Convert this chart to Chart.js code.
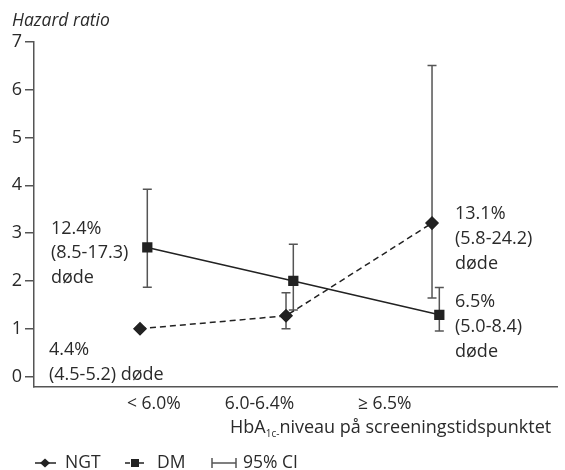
<!DOCTYPE html>
<html><head><meta charset="utf-8">
<script src="https://cdn.jsdelivr.net/npm/chart.js@4/dist/chart.umd.min.js"></script>
<style>html,body{margin:0;padding:0;background:#fff;}canvas{display:block;}</style>
</head><body>
<canvas id="c" width="565" height="470"></canvas>
<script>
const categories = ['< 6.0%', '6.0-6.4%', '≥ 6.5%'];
const ngtValues = [1.0, 1.27, 3.21];
const ngtLow = [null, 1.0, 1.64];
const ngtHigh = [null, 1.75, 6.51];
const dmValues = [2.70, 2.0, 1.29];
const dmLow = [1.87, 1.39, 0.95];
const dmHigh = [3.92, 2.77, 1.86];
const yTickValues = [0, 1, 2, 3, 4, 5, 6, 7];
const yTitle = 'Hazard ratio';
const xTitleParts = ['HbA', '1c-', 'niveau på screeningstidspunktet'];
const seriesNames = ['NGT', 'DM', '95% CI'];
const annotations = [
  ['12.4%', '(8.5-17.3)', 'døde'],
  ['4.4%', '(4.5-5.2) døde'],
  ['13.1%', '(5.8-24.2)', 'døde'],
  ['6.5%', '(5.0-8.4)', 'døde']
];

const FONT = '"Open Sans", "Noto Sans", sans-serif';
const FS = 18;
const DM_SHIFT = 0.05;
const LABEL_POS = [0.095, 0.818, 1.676];

const ngtData = ngtValues.map((v, i) => ({x: i, y: v}));
const dmData = dmValues.map((v, i) => ({x: i + DM_SHIFT, y: v}));

const extras = {
  id: 'extras',
  beforeDatasetsDraw(chart) {
    const ctx = chart.ctx, xs = chart.scales.x, ys = chart.scales.y;
    ctx.save();
    ctx.strokeStyle = '#555';
    ctx.lineWidth = 1.5;
    const bars = (lo, hi, shift) => {
      lo.forEach((l, i) => {
        if (l == null) return;
        const x = xs.getPixelForValue(i + shift);
        const y1 = ys.getPixelForValue(l), y2 = ys.getPixelForValue(hi[i]);
        ctx.beginPath();
        ctx.moveTo(x, y1); ctx.lineTo(x, y2);
        ctx.moveTo(x - 4.5, y1); ctx.lineTo(x + 4.5, y1);
        ctx.moveTo(x - 4.5, y2); ctx.lineTo(x + 4.5, y2);
        ctx.stroke();
      });
    };
    bars(ngtLow, ngtHigh, 0);
    bars(dmLow, dmHigh, DM_SHIFT);
    ctx.restore();
  },
  afterDraw(chart) {
    const ctx = chart.ctx, xs = chart.scales.x, ys = chart.scales.y, ca = chart.chartArea;
    ctx.save();
    ctx.fillStyle = '#2a2a2a';
    ctx.textBaseline = 'middle';
    ctx.textAlign = 'left';
    // y title
    ctx.font = 'italic 17.5px ' + FONT;
    ctx.fillText(yTitle, 12, 21);
    // annotations
    ctx.font = FS + 'px ' + FONT;
    const lh = 24.8;
    const put = (lines, x, y) => lines.forEach((t, k) => ctx.fillText(t, x, y + k * lh));
    put(annotations[0], ca.left + 17, ys.getPixelForValue(dmValues[0]) - 19);
    put(annotations[1], ca.left + 15, ys.getPixelForValue(ngtValues[0]) + 21);
    put(annotations[2], xs.getPixelForValue(2) + 23, ys.getPixelForValue(ngtValues[2]) - 9);
    put(annotations[3], xs.getPixelForValue(2) + 23, ys.getPixelForValue(dmValues[2]) - 13);
    // x title with subscript
    let x = 230, y = 428;
    ctx.font = FS + 'px ' + FONT;
    ctx.fillText(xTitleParts[0], x, y);
    x += ctx.measureText(xTitleParts[0]).width;
    ctx.font = '10px ' + FONT;
    ctx.fillText(xTitleParts[1], x, y + 6);
    x += ctx.measureText(xTitleParts[1]).width;
    ctx.font = FS + 'px ' + FONT;
    ctx.fillText(xTitleParts[2], x, y);
    // legend
    const ly = 463;
    ctx.strokeStyle = '#222'; ctx.fillStyle = '#222'; ctx.lineWidth = 1.5;
    ctx.beginPath(); ctx.moveTo(35, ly); ctx.lineTo(56, ly); ctx.stroke();
    ctx.beginPath(); ctx.moveTo(45, ly - 4.5); ctx.lineTo(50, ly); ctx.lineTo(45, ly + 4.5); ctx.lineTo(40, ly); ctx.closePath(); ctx.fill();
    ctx.beginPath(); ctx.moveTo(125, ly); ctx.lineTo(130, ly); ctx.moveTo(139, ly); ctx.lineTo(144, ly); ctx.stroke();
    ctx.fillRect(131, ly - 4, 8, 8);
    ctx.strokeStyle = '#555';
    ctx.beginPath(); ctx.moveTo(212, ly); ctx.lineTo(236, ly);
    ctx.moveTo(212, ly - 5); ctx.lineTo(212, ly + 5);
    ctx.moveTo(236, ly - 5); ctx.lineTo(236, ly + 5); ctx.stroke();
    ctx.fillStyle = '#2a2a2a';
    ctx.font = '17.5px ' + FONT;
    ctx.fillText(seriesNames[0], 65, ly);
    ctx.fillText(seriesNames[1], 157, ly);
    ctx.fillText(seriesNames[2], 243, ly);
    ctx.restore();
  }
};

new Chart(document.getElementById('c'), {
  type: 'scatter',
  data: {
    datasets: [
      {label: seriesNames[0], data: ngtData, showLine: true, borderColor: '#222', backgroundColor: '#222',
       borderWidth: 1.5, borderDash: [6, 4], pointStyle: 'rectRot', pointRadius: 6, pointHoverRadius: 6},
      {label: seriesNames[1], data: dmData, showLine: true, borderColor: '#222', backgroundColor: '#222',
       borderWidth: 1.5, pointStyle: 'rect', pointRadius: 6.2, pointHoverRadius: 6.2}
    ]
  },
  options: {
    responsive: false,
    animation: false,
    events: [],
    layout: {padding: {top: 42, right: 0, left: 0, bottom: 0}},
    plugins: {legend: {display: false}, tooltip: {enabled: false}, title: {display: false}},
    scales: {
      x: {
        type: 'linear', min: -0.726, max: 2.858,
        afterBuildTicks(axis) { axis.ticks = LABEL_POS.map(v => ({value: v})); },
        afterFit(axis) { axis.height = 83; },
        grid: {display: true, drawOnChartArea: false, drawTicks: false},
        border: {display: true, color: '#555', width: 1.5},
        ticks: {
          autoSkip: false, maxRotation: 0, padding: 7, color: '#2a2a2a',
          font: {family: FONT, size: 17.5},
          callback: (v, i) => categories[i]
        }
      },
      y: {
        min: -0.22, max: 7,
        afterBuildTicks(axis) { axis.ticks = yTickValues.map(v => ({value: v})); },
        afterFit(axis) { axis.width = 34; },
        grid: {drawOnChartArea: false, drawTicks: true, tickLength: 9, color: '#555', lineWidth: 1.5},
        border: {display: true, color: '#555', width: 1.5},
        ticks: {padding: 3, color: '#2a2a2a', font: {family: FONT, size: 18}, callback: v => String(v)}
      }
    }
  },
  plugins: [extras]
});
</script>
</body></html>
